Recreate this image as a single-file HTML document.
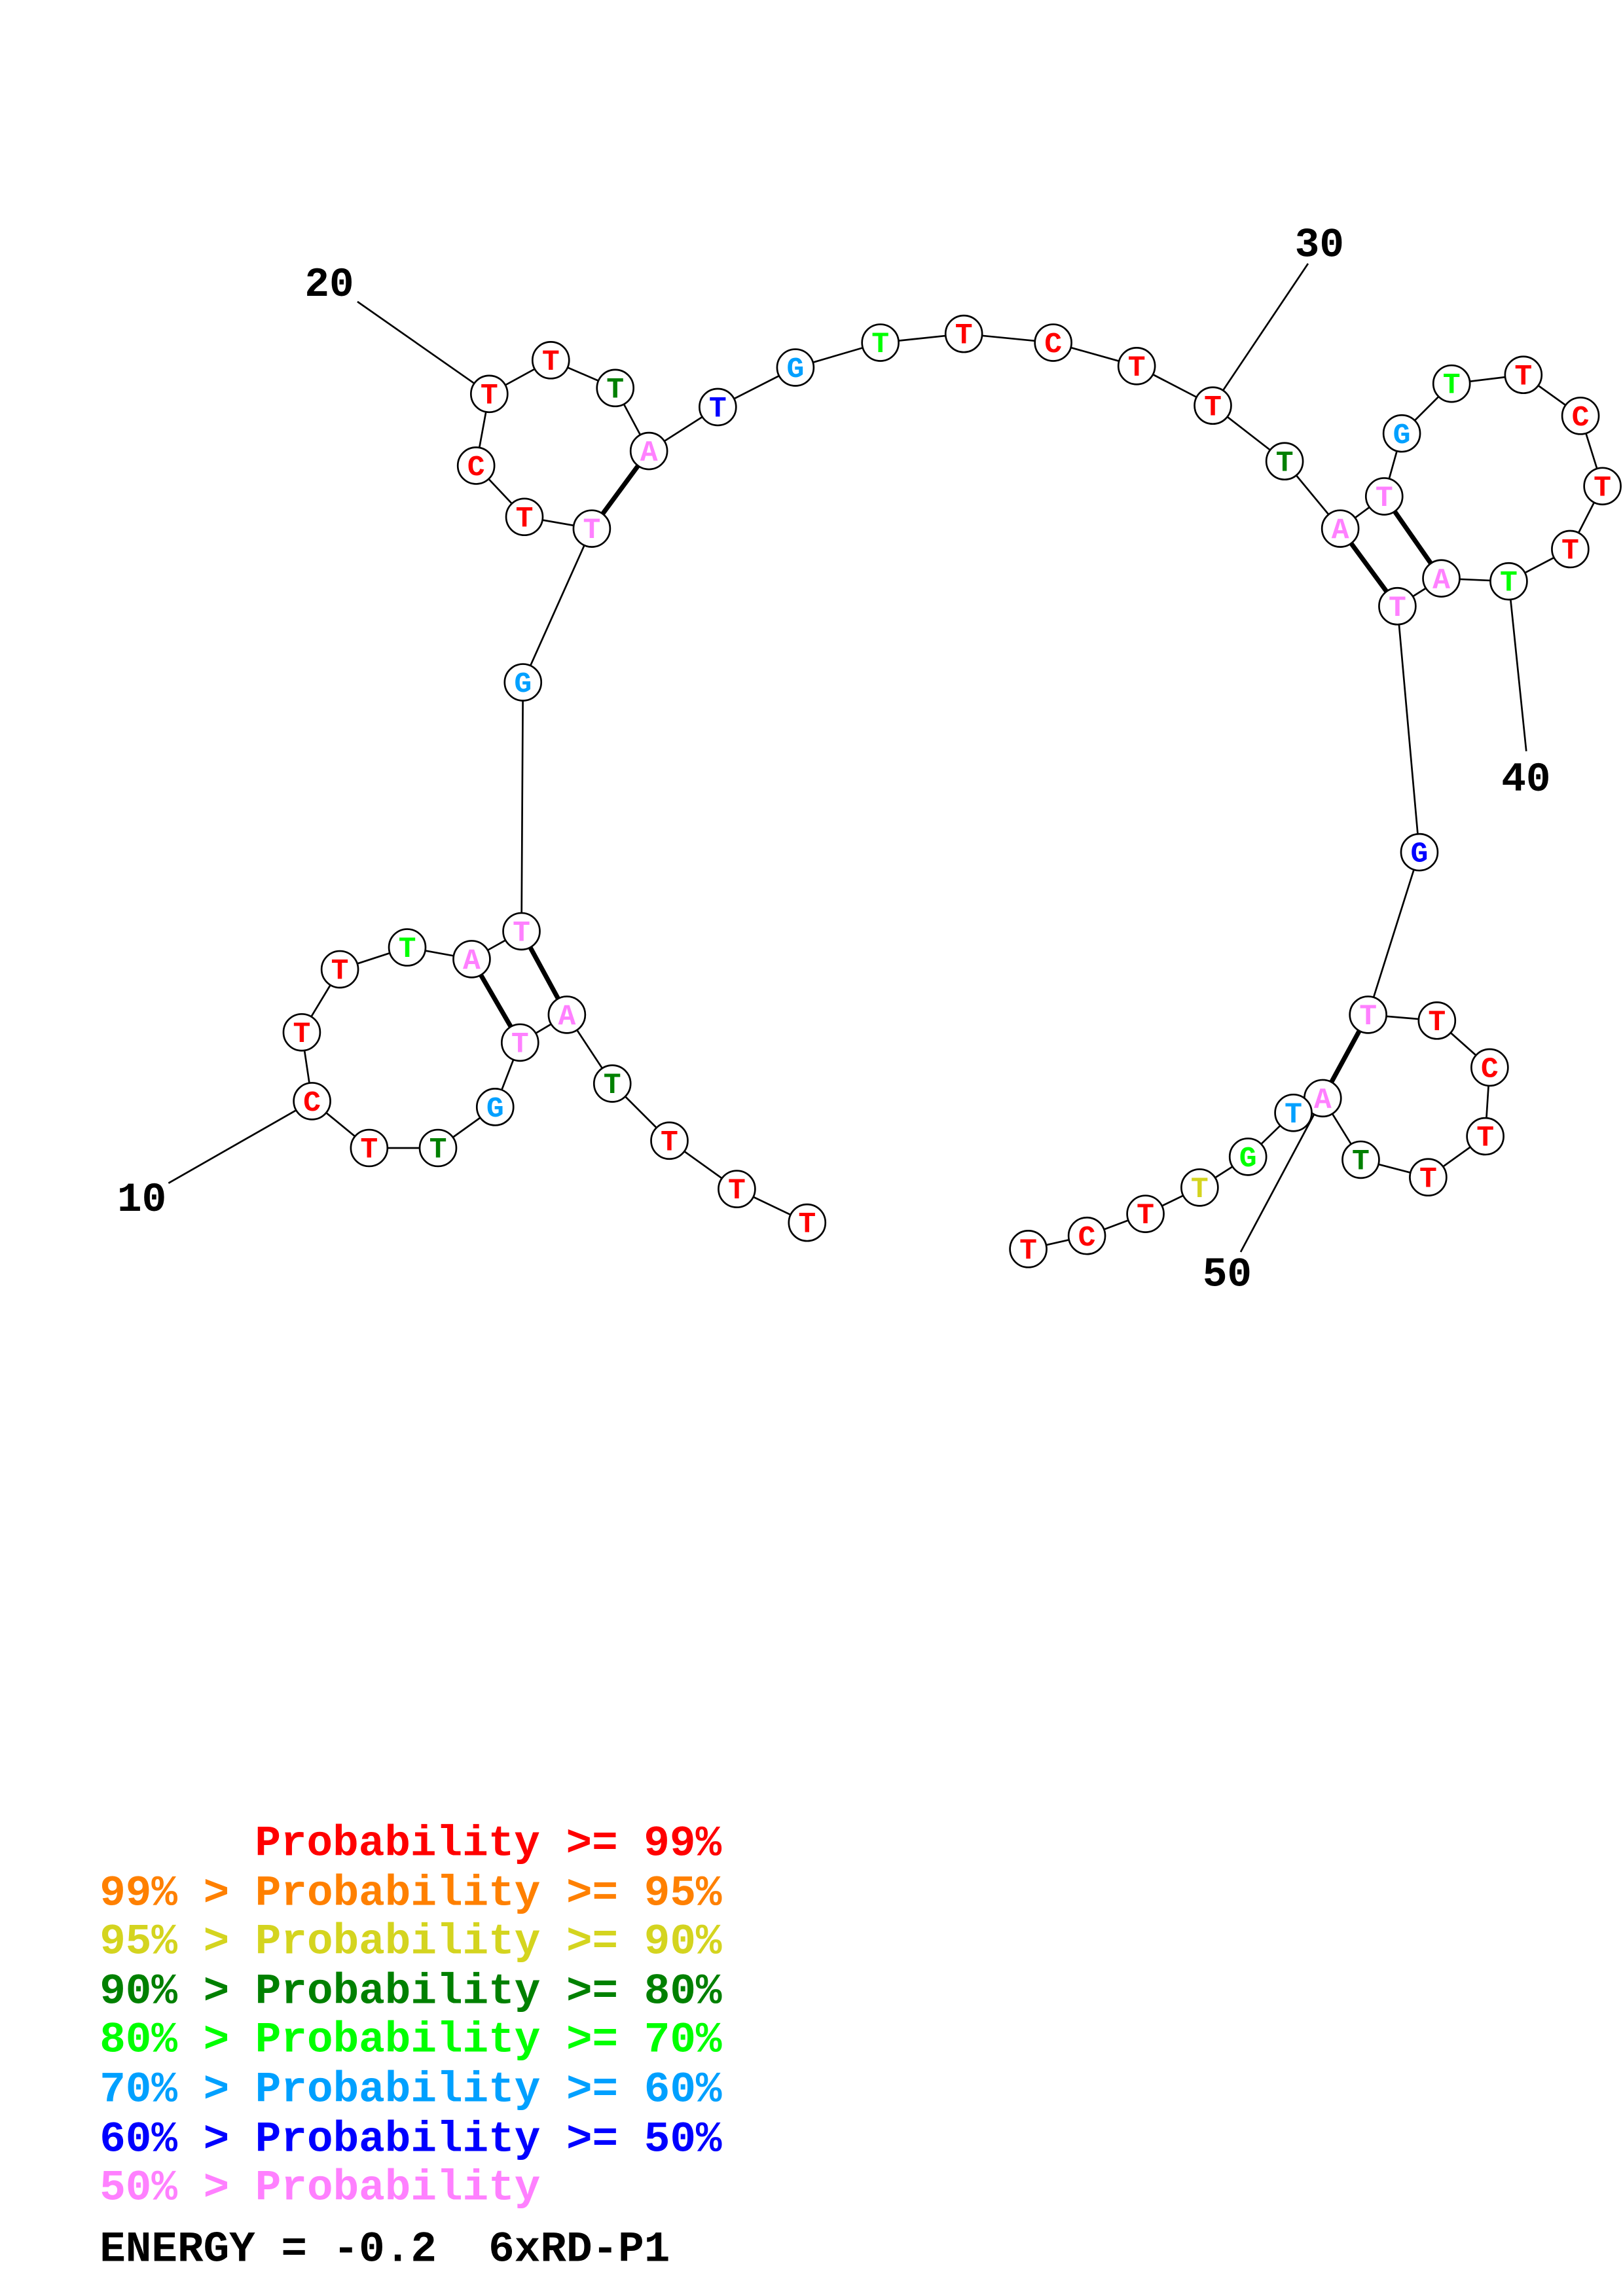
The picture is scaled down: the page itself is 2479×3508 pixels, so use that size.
<!DOCTYPE html>
<html><head><meta charset="utf-8"><style>
html,body{margin:0;padding:0;background:#fff;}
svg{display:block;}
text{font-family:"Liberation Mono",monospace;font-weight:bold;}
</style></head><body>
<svg width="2479" height="3508" viewBox="0 0 1108 1568" xmlns="http://www.w3.org/2000/svg">
<rect width="1108" height="1568" fill="#fff"/>
<g stroke="#000" stroke-width="1.2" fill="none">
<polyline points="551,835 503,812 457,779 418,740 387,693 355,712 338,756 299,784 252,784 213,752 206,705 232,662 278,647 322,655 356,636 357,466 404,361 358,353 325,318 334,269 376,246 420,265 443,308 490,278 543,251 601,234 658,228 719,234 776,250 828,277 877,315 915,361 945,339 957,296 991,262 1040,256 1079,284 1094,332 1072,375 1030,397 984,395 954,414 969,582 934,693 981,697 1017,729 1014,776 975,804 929,792 903,750 883,760 852,790 819,811 782,829 742,844 702,853"/>
<line x1="115" y1="808" x2="213" y2="752"/>
<line x1="244" y1="206" x2="334" y2="269"/>
<line x1="893" y1="180" x2="828" y2="277"/>
<line x1="1042" y1="513" x2="1030" y2="397"/>
<line x1="847" y1="855" x2="903" y2="750"/>
</g>
<g stroke="#000" stroke-width="3.2">
<line x1="387" y1="693" x2="356" y2="636"/>
<line x1="355" y1="712" x2="322" y2="655"/>
<line x1="404" y1="361" x2="443" y2="308"/>
<line x1="915" y1="361" x2="954" y2="414"/>
<line x1="945" y1="339" x2="984" y2="395"/>
<line x1="934" y1="693" x2="903" y2="750"/>
</g>
<g font-size="28" fill="#000">
<text x="80" y="827">10</text>
<text x="208" y="202">20</text>
<text x="884" y="175">30</text>
<text x="1025" y="540">40</text>
<text x="821" y="878">50</text>
</g>
<g font-size="29.5">
<text x="174" y="1267" fill="#ff0000">Probability &gt;= 99%</text>
<text x="68" y="1301" fill="#ff8000" xml:space="preserve">99% &gt; Probability &gt;= 95%</text>
<text x="68" y="1334" fill="#d4d41f" xml:space="preserve">95% &gt; Probability &gt;= 90%</text>
<text x="68" y="1368" fill="#008000" xml:space="preserve">90% &gt; Probability &gt;= 80%</text>
<text x="68" y="1401" fill="#00ff00" xml:space="preserve">80% &gt; Probability &gt;= 70%</text>
<text x="68" y="1435" fill="#00a0ff" xml:space="preserve">70% &gt; Probability &gt;= 60%</text>
<text x="68" y="1469" fill="#0000ff" xml:space="preserve">60% &gt; Probability &gt;= 50%</text>
<text x="68" y="1502" fill="#ff80ff" xml:space="preserve">50% &gt; Probability</text>
<text x="68" y="1544" fill="#000" xml:space="preserve">ENERGY = -0.2  6xRD-P1</text>
</g>
<g font-size="20" text-anchor="middle">
<circle cx="551" cy="835" r="12.5" fill="#fff" stroke="#000" stroke-width="1.2"/><text x="551" y="841.5" fill="#ff0000">T</text>
<circle cx="503" cy="812" r="12.5" fill="#fff" stroke="#000" stroke-width="1.2"/><text x="503" y="818.5" fill="#ff0000">T</text>
<circle cx="457" cy="779" r="12.5" fill="#fff" stroke="#000" stroke-width="1.2"/><text x="457" y="785.5" fill="#ff0000">T</text>
<circle cx="418" cy="740" r="12.5" fill="#fff" stroke="#000" stroke-width="1.2"/><text x="418" y="746.5" fill="#008000">T</text>
<circle cx="387" cy="693" r="12.5" fill="#fff" stroke="#000" stroke-width="1.2"/><text x="387" y="699.5" fill="#ff80ff">A</text>
<circle cx="355" cy="712" r="12.5" fill="#fff" stroke="#000" stroke-width="1.2"/><text x="355" y="718.5" fill="#ff80ff">T</text>
<circle cx="338" cy="756" r="12.5" fill="#fff" stroke="#000" stroke-width="1.2"/><text x="338" y="762.5" fill="#00a0ff">G</text>
<circle cx="299" cy="784" r="12.5" fill="#fff" stroke="#000" stroke-width="1.2"/><text x="299" y="790.5" fill="#008000">T</text>
<circle cx="252" cy="784" r="12.5" fill="#fff" stroke="#000" stroke-width="1.2"/><text x="252" y="790.5" fill="#ff0000">T</text>
<circle cx="213" cy="752" r="12.5" fill="#fff" stroke="#000" stroke-width="1.2"/><text x="213" y="758.5" fill="#ff0000">C</text>
<circle cx="206" cy="705" r="12.5" fill="#fff" stroke="#000" stroke-width="1.2"/><text x="206" y="711.5" fill="#ff0000">T</text>
<circle cx="232" cy="662" r="12.5" fill="#fff" stroke="#000" stroke-width="1.2"/><text x="232" y="668.5" fill="#ff0000">T</text>
<circle cx="278" cy="647" r="12.5" fill="#fff" stroke="#000" stroke-width="1.2"/><text x="278" y="653.5" fill="#00ff00">T</text>
<circle cx="322" cy="655" r="12.5" fill="#fff" stroke="#000" stroke-width="1.2"/><text x="322" y="661.5" fill="#ff80ff">A</text>
<circle cx="356" cy="636" r="12.5" fill="#fff" stroke="#000" stroke-width="1.2"/><text x="356" y="642.5" fill="#ff80ff">T</text>
<circle cx="357" cy="466" r="12.5" fill="#fff" stroke="#000" stroke-width="1.2"/><text x="357" y="472.5" fill="#00a0ff">G</text>
<circle cx="404" cy="361" r="12.5" fill="#fff" stroke="#000" stroke-width="1.2"/><text x="404" y="367.5" fill="#ff80ff">T</text>
<circle cx="358" cy="353" r="12.5" fill="#fff" stroke="#000" stroke-width="1.2"/><text x="358" y="359.5" fill="#ff0000">T</text>
<circle cx="325" cy="318" r="12.5" fill="#fff" stroke="#000" stroke-width="1.2"/><text x="325" y="324.5" fill="#ff0000">C</text>
<circle cx="334" cy="269" r="12.5" fill="#fff" stroke="#000" stroke-width="1.2"/><text x="334" y="275.5" fill="#ff0000">T</text>
<circle cx="376" cy="246" r="12.5" fill="#fff" stroke="#000" stroke-width="1.2"/><text x="376" y="252.5" fill="#ff0000">T</text>
<circle cx="420" cy="265" r="12.5" fill="#fff" stroke="#000" stroke-width="1.2"/><text x="420" y="271.5" fill="#008000">T</text>
<circle cx="443" cy="308" r="12.5" fill="#fff" stroke="#000" stroke-width="1.2"/><text x="443" y="314.5" fill="#ff80ff">A</text>
<circle cx="490" cy="278" r="12.5" fill="#fff" stroke="#000" stroke-width="1.2"/><text x="490" y="284.5" fill="#0000ff">T</text>
<circle cx="543" cy="251" r="12.5" fill="#fff" stroke="#000" stroke-width="1.2"/><text x="543" y="257.5" fill="#00a0ff">G</text>
<circle cx="601" cy="234" r="12.5" fill="#fff" stroke="#000" stroke-width="1.2"/><text x="601" y="240.5" fill="#00ff00">T</text>
<circle cx="658" cy="228" r="12.5" fill="#fff" stroke="#000" stroke-width="1.2"/><text x="658" y="234.5" fill="#ff0000">T</text>
<circle cx="719" cy="234" r="12.5" fill="#fff" stroke="#000" stroke-width="1.2"/><text x="719" y="240.5" fill="#ff0000">C</text>
<circle cx="776" cy="250" r="12.5" fill="#fff" stroke="#000" stroke-width="1.2"/><text x="776" y="256.5" fill="#ff0000">T</text>
<circle cx="828" cy="277" r="12.5" fill="#fff" stroke="#000" stroke-width="1.2"/><text x="828" y="283.5" fill="#ff0000">T</text>
<circle cx="877" cy="315" r="12.5" fill="#fff" stroke="#000" stroke-width="1.2"/><text x="877" y="321.5" fill="#008000">T</text>
<circle cx="915" cy="361" r="12.5" fill="#fff" stroke="#000" stroke-width="1.2"/><text x="915" y="367.5" fill="#ff80ff">A</text>
<circle cx="945" cy="339" r="12.5" fill="#fff" stroke="#000" stroke-width="1.2"/><text x="945" y="345.5" fill="#ff80ff">T</text>
<circle cx="957" cy="296" r="12.5" fill="#fff" stroke="#000" stroke-width="1.2"/><text x="957" y="302.5" fill="#00a0ff">G</text>
<circle cx="991" cy="262" r="12.5" fill="#fff" stroke="#000" stroke-width="1.2"/><text x="991" y="268.5" fill="#00ff00">T</text>
<circle cx="1040" cy="256" r="12.5" fill="#fff" stroke="#000" stroke-width="1.2"/><text x="1040" y="262.5" fill="#ff0000">T</text>
<circle cx="1079" cy="284" r="12.5" fill="#fff" stroke="#000" stroke-width="1.2"/><text x="1079" y="290.5" fill="#ff0000">C</text>
<circle cx="1094" cy="332" r="12.5" fill="#fff" stroke="#000" stroke-width="1.2"/><text x="1094" y="338.5" fill="#ff0000">T</text>
<circle cx="1072" cy="375" r="12.5" fill="#fff" stroke="#000" stroke-width="1.2"/><text x="1072" y="381.5" fill="#ff0000">T</text>
<circle cx="1030" cy="397" r="12.5" fill="#fff" stroke="#000" stroke-width="1.2"/><text x="1030" y="403.5" fill="#00ff00">T</text>
<circle cx="984" cy="395" r="12.5" fill="#fff" stroke="#000" stroke-width="1.2"/><text x="984" y="401.5" fill="#ff80ff">A</text>
<circle cx="954" cy="414" r="12.5" fill="#fff" stroke="#000" stroke-width="1.2"/><text x="954" y="420.5" fill="#ff80ff">T</text>
<circle cx="969" cy="582" r="12.5" fill="#fff" stroke="#000" stroke-width="1.2"/><text x="969" y="588.5" fill="#0000ff">G</text>
<circle cx="934" cy="693" r="12.5" fill="#fff" stroke="#000" stroke-width="1.2"/><text x="934" y="699.5" fill="#ff80ff">T</text>
<circle cx="981" cy="697" r="12.5" fill="#fff" stroke="#000" stroke-width="1.2"/><text x="981" y="703.5" fill="#ff0000">T</text>
<circle cx="1017" cy="729" r="12.5" fill="#fff" stroke="#000" stroke-width="1.2"/><text x="1017" y="735.5" fill="#ff0000">C</text>
<circle cx="1014" cy="776" r="12.5" fill="#fff" stroke="#000" stroke-width="1.2"/><text x="1014" y="782.5" fill="#ff0000">T</text>
<circle cx="975" cy="804" r="12.5" fill="#fff" stroke="#000" stroke-width="1.2"/><text x="975" y="810.5" fill="#ff0000">T</text>
<circle cx="929" cy="792" r="12.5" fill="#fff" stroke="#000" stroke-width="1.2"/><text x="929" y="798.5" fill="#008000">T</text>
<circle cx="903" cy="750" r="12.5" fill="#fff" stroke="#000" stroke-width="1.2"/><text x="903" y="756.5" fill="#ff80ff">A</text>
<circle cx="883" cy="760" r="12.5" fill="#fff" stroke="#000" stroke-width="1.2"/><text x="883" y="766.5" fill="#00a0ff">T</text>
<circle cx="852" cy="790" r="12.5" fill="#fff" stroke="#000" stroke-width="1.2"/><text x="852" y="796.5" fill="#00ff00">G</text>
<circle cx="819" cy="811" r="12.5" fill="#fff" stroke="#000" stroke-width="1.2"/><text x="819" y="817.5" fill="#d4d41f">T</text>
<circle cx="782" cy="829" r="12.5" fill="#fff" stroke="#000" stroke-width="1.2"/><text x="782" y="835.5" fill="#ff0000">T</text>
<circle cx="742" cy="844" r="12.5" fill="#fff" stroke="#000" stroke-width="1.2"/><text x="742" y="850.5" fill="#ff0000">C</text>
<circle cx="702" cy="853" r="12.5" fill="#fff" stroke="#000" stroke-width="1.2"/><text x="702" y="859.5" fill="#ff0000">T</text>
</g>
</svg>
</body></html>
